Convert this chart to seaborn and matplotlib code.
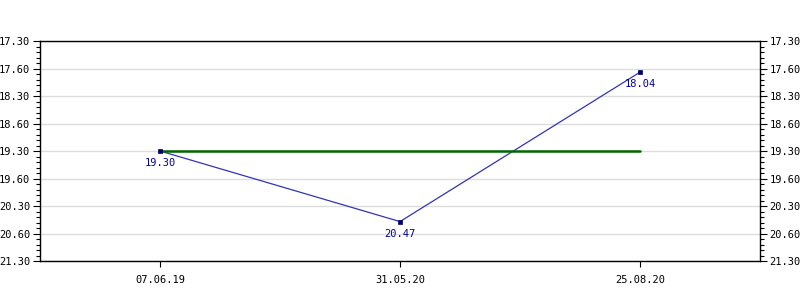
import matplotlib
matplotlib.use("Agg")
import matplotlib.pyplot as plt
import seaborn as sns
import pandas as pd
from matplotlib.ticker import MultipleLocator, FixedLocator

# values in the chart's own "mm.ss"-style notation
dates = ["07.06.19", "31.05.20", "25.08.20"]
values = [19.30, 20.47, 18.04]
reference_level = 19.30
tick_labels = ["17.30", "17.60", "18.30", "18.60", "19.30", "19.60", "20.30", "20.60", "21.30"]


def to_decimal(v):
    whole = int(v)
    frac = round((v - whole) * 100)
    return whole + frac / 60.0


sns.set_theme(style="white")
plt.rcParams["font.family"] = ["DejaVu Sans Mono", "DejaVu Sans"]

df = pd.DataFrame({"x": range(len(dates)), "y": [to_decimal(v) for v in values], "label": values})

fig = plt.figure(figsize=(8, 3), dpi=100)
ax = fig.add_axes([0.05, 0.13, 0.90, 0.7333])

tick_pos = [to_decimal(float(t)) for t in tick_labels]

for yp in tick_pos:
    ax.axhline(yp, color="#dddddd", lw=1, zorder=0)

sns.lineplot(data=df, x="x", y="y", ax=ax, color="#3333bb", lw=0.9, zorder=2)
ax.plot([0, len(dates) - 1], [to_decimal(reference_level)] * 2, color="#006600", lw=1.8, zorder=3)
sns.scatterplot(data=df, x="x", y="y", ax=ax, marker="s", s=12, color="#000066",
                edgecolor="#000066", linewidth=0.5, zorder=4)

for _, r in df.iterrows():
    ax.annotate(f"{r['label']:.2f}", (r["x"], r["y"]), xytext=(0, -5), textcoords="offset points",
                ha="center", va="top", fontsize=7.5, color="#000099")

ax.set_xlim(-0.5, len(dates) - 0.5)
ax.set_ylim(tick_pos[-1], tick_pos[0])
ax.set_xticks(range(len(dates)))
ax.set_xticklabels(dates)
ax.yaxis.set_major_locator(FixedLocator(tick_pos))
ax.set_yticklabels(tick_labels)
ax.yaxis.set_minor_locator(MultipleLocator(0.1))
ax.set_xlabel("")
ax.set_ylabel("")

ax.tick_params(axis="y", which="major", direction="out", length=5, width=0.8, color="black",
               labelsize=7.5, labelcolor="black", left=True, right=True,
               labelleft=True, labelright=True, pad=2)
ax.tick_params(axis="y", which="minor", direction="out", length=3, width=0.8, color="black",
               left=True, right=True)
ax.tick_params(axis="x", which="major", direction="out", length=4, width=0.8, color="black",
               labelsize=7.5, labelcolor="black", bottom=True, pad=6)

for s in ax.spines.values():
    s.set_color("black")
    s.set_linewidth(1.0)
    s.set_visible(True)
ax.grid(False)

fig.savefig("out.png", dpi=100, facecolor="white")
